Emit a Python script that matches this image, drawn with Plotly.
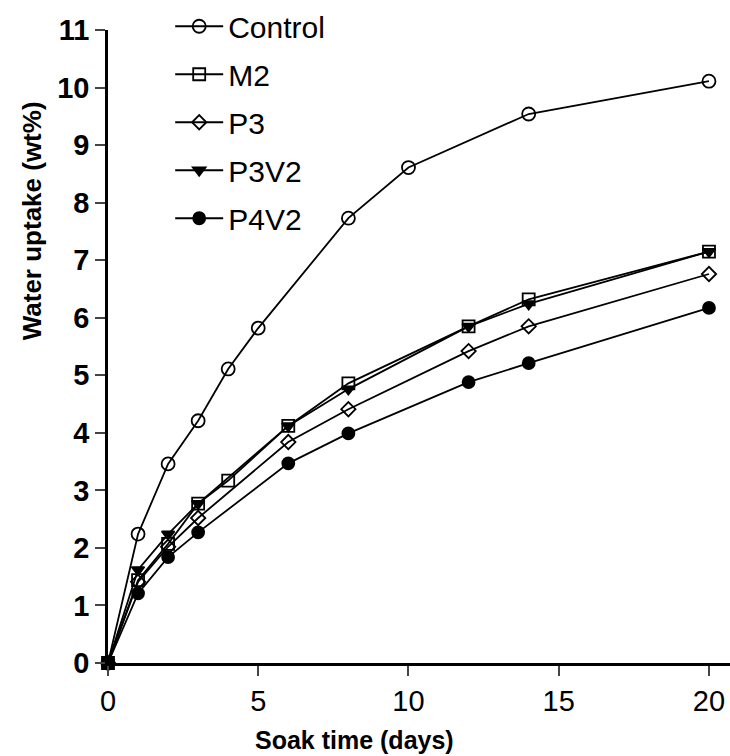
import plotly.graph_objects as go

# Data
control_x = [0, 1, 2, 3, 4, 5, 8, 10, 14, 20]
control_y = [0, 2.24, 3.46, 4.21, 5.11, 5.82, 7.73, 8.61, 9.54, 10.11]

m2_x = [0, 1, 2, 3, 4, 6, 8, 12, 14, 20]
m2_y = [0, 1.44, 2.07, 2.77, 3.17, 4.12, 4.86, 5.85, 6.32, 7.15]

p3_x = [0, 1, 2, 3, 6, 8, 12, 14, 20]
p3_y = [0, 1.41, 2.02, 2.52, 3.84, 4.41, 5.42, 5.85, 6.76]

p3v2_x = [0, 1, 2, 3, 6, 8, 12, 14, 20]
p3v2_y = [0, 1.62, 2.24, 2.77, 4.12, 4.76, 5.85, 6.24, 7.15]

p4v2_x = [0, 1, 2, 3, 6, 8, 12, 14, 20]
p4v2_y = [0, 1.21, 1.84, 2.27, 3.47, 3.99, 4.88, 5.21, 6.17]

x_ticks = [0, 5, 10, 15, 20]
y_ticks = list(range(0, 12))

x_title = "Soak time (days)"
y_title = "Water uptake (wt%)"

series = [
    ("Control", control_x, control_y, dict(symbol="circle-open", size=13)),
    ("M2", m2_x, m2_y, dict(symbol="square-open", size=12)),
    ("P3", p3_x, p3_y, dict(symbol="diamond-open", size=11)),
    ("P3V2", p3v2_x, p3v2_y, dict(symbol="triangle-down", size=11)),
    ("P4V2", p4v2_x, p4v2_y, dict(symbol="circle", size=12)),
]

fig = go.Figure()
for name, xs, ys, mk in series:
    fig.add_trace(go.Scatter(
        x=xs, y=ys, name=name, mode="lines+markers", legendgroup=name,
        line=dict(color="black", width=1.8),
        marker=dict(color="black", line=dict(color="black", width=1.8), **mk),
        cliponaxis=False,
    ))

font_family = "Liberation Sans, Arial, sans-serif"
fig.update_layout(
    width=730, height=756,
    margin=dict(l=108, r=0, t=28, b=93),
    paper_bgcolor="white", plot_bgcolor="white",
    font=dict(family=font_family, color="black", size=24),
    legend=dict(
        x=0.100, y=1.047, xanchor="left", yanchor="top",
        font=dict(size=30, family=font_family),
        itemwidth=48,
        tracegroupgap=6, bgcolor="rgba(0,0,0,0)",
    ),
    xaxis=dict(
        range=[0, 20.7], tickvals=x_ticks, ticks="outside", ticklen=10,
        tickwidth=2, showline=True, linecolor="black", linewidth=2.5,
        showgrid=False, zeroline=False,
        tickfont=dict(size=29, family=font_family),
    ),
    yaxis=dict(
        range=[0, 11], tickvals=y_ticks, ticks="outside", ticklen=10,
        tickwidth=2, showline=True, linecolor="black", linewidth=2.5,
        showgrid=False, zeroline=False,
        tickfont=dict(size=29, family=font_family, weight="bold"),
    ),
    annotations=[
        dict(text="<b>" + x_title + "</b>", xref="paper", yref="paper",
             x=0.397, y=-0.121, xanchor="center", yanchor="middle",
             showarrow=False, font=dict(size=25, family=font_family)),
        dict(text="<b>" + y_title + "</b>", xref="paper", yref="paper",
             x=-0.122, y=0.698, xanchor="center", yanchor="middle",
             textangle=-90, showarrow=False,
             font=dict(size=26, family=font_family)),
    ],
)

fig.write_html("out.html")
